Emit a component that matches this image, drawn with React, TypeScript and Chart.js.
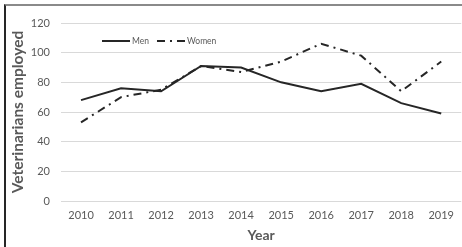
import React, { useEffect, useRef } from "react";
import { Chart, registerables } from "chart.js";

Chart.register(...registerables);

const years = ["2010", "2011", "2012", "2013", "2014", "2015", "2016", "2017", "2018", "2019"];
const menValues = [68, 76, 74, 91, 90, 80, 74, 79, 66, 59];
const womenValues = [53, 70, 75, 91, 87, 94, 106, 98, 74, 94];
const yTicks = [0, 20, 40, 60, 80, 100, 120];

const FONT = "Lato, 'Open Sans', sans-serif";
const GREY_TEXT = "#595959";

const insideLegend = {
  id: "insideLegend",
  afterDraw(chart: any) {
    const ctx = chart.ctx;
    ctx.save();
    ctx.font = `8.5px ${FONT}`;
    ctx.textBaseline = "middle";
    const y = 41;
    let x = 102;
    chart.data.datasets.forEach((ds: any) => {
      ctx.strokeStyle = ds.borderColor;
      ctx.lineWidth = 2;
      ctx.setLineDash(ds.borderDash || []);
      ctx.beginPath();
      ctx.moveTo(x, y);
      ctx.lineTo(x + 28, y);
      ctx.stroke();
      ctx.setLineDash([]);
      ctx.fillStyle = GREY_TEXT;
      ctx.fillText(ds.label, x + 30, y);
      x += 30 + ctx.measureText(ds.label).width + 8;
    });
    ctx.restore();
  },
};

export default function App() {
  const ref = useRef<HTMLCanvasElement>(null);
  useEffect(() => {
    if (!ref.current) return;
    const chart = new Chart(ref.current, {
      type: "line",
      data: {
        labels: years,
        datasets: [
          {
            label: "Men",
            data: menValues,
            borderColor: "#262626",
            borderWidth: 2,
            pointRadius: 0,
            tension: 0,
            fill: false,
          },
          {
            label: "Women",
            data: womenValues,
            borderColor: "#262626",
            borderWidth: 2,
            borderDash: [8, 5, 2, 5],
            pointRadius: 0,
            tension: 0,
            fill: false,
          },
        ],
      },
      options: {
        animation: false,
        responsive: false,
        layout: { padding: { top: 23, right: 0, left: 0, bottom: 0 } },
        plugins: { legend: { display: false }, tooltip: { enabled: false } },
        scales: {
          x: {
            offset: true,
            grid: { display: false, drawTicks: false },
            border: { display: false },
            ticks: { color: GREY_TEXT, font: { family: FONT, size: 11 }, padding: 8, maxRotation: 0 },
            title: {
              display: true,
              text: "Year",
              color: GREY_TEXT,
              font: { family: FONT, size: 14, weight: "bold" },
              padding: { top: 2, bottom: 3 },
            },
            afterFit: (s: any) => {
              s.height = 46;
            },
          },
          y: {
            min: 0,
            max: 120,
            afterBuildTicks: (s: any) => {
              s.ticks = yTicks.map((v) => ({ value: v }));
            },
            grid: { color: "#d9d9d9", lineWidth: 1, drawTicks: false },
            border: { display: false },
            ticks: { color: GREY_TEXT, font: { family: FONT, size: 11 }, padding: 11 },
            title: {
              display: true,
              text: "Veterinarians employed",
              color: GREY_TEXT,
              font: { family: FONT, size: 15.5, weight: "bold" },
              padding: { top: 8.5, bottom: 0 },
            },
            afterFit: (s: any) => {
              s.width = 61;
            },
          },
        },
      },
      plugins: [insideLegend],
    });
    return () => chart.destroy();
  }, []);

  return (
    <div style={{ position: "fixed", left: 0, top: 0, width: 462, height: 247, background: "#fff" }}>
      <canvas ref={ref} width={462} height={247} style={{ position: "absolute", left: 0, top: 0 }} />
      <div
        style={{
          position: "absolute",
          left: 4,
          top: 4,
          right: 0,
          bottom: 0,
          borderTop: "2px solid #8a8a8a",
          borderLeft: "2px solid #262626",
          pointerEvents: "none",
        }}
      />
    </div>
  );
}
